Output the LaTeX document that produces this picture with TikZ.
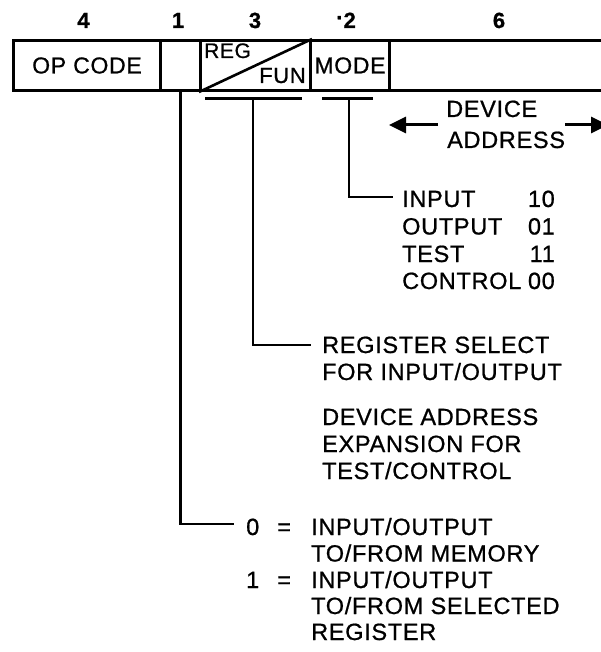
\documentclass[tikz,border=0pt]{standalone}
\usepackage{fontspec}
\setmainfont{Liberation Sans}[FakeBold=0.8,LetterSpace=3]
\usetikzlibrary{arrows.meta}
\newcommand\fsz[1]{\fontsize{#1}{#1}\selectfont}
\begin{document}
\begin{tikzpicture}[x=1pt,y=-1pt,
  field/.style={draw, line width=3pt, minimum height=50pt, inner sep=0pt,
    anchor=north west, font=\fsz{23}},
  toplbl/.style={anchor=base, inner sep=0pt, font=\fsz{22}\bfseries},
  txt/.style={anchor=base west, inner sep=0pt, font=\fsz{23.5}},
  num/.style={anchor=base east, inner sep=0pt, font=\fsz{23.5}},
  conn/.style={line width=2.6pt, line cap=rect},
  barline/.style={line width=3pt},
  bigarrow/.style={line width=3pt, -{Triangle[length=17pt,width=16pt]}}
]
\useasboundingbox (0,0) rectangle (601,652);
\clip (0,0) rectangle (601,652);

% field widths
\node[toplbl] (w4) at (83.5,28) {4};
\node[toplbl] (w1) at (178,28) {1};
\node[toplbl] (w3) at (255,28) {3};
\node[toplbl, anchor=base east] (w2) at (356,28) {\raisebox{3pt}{·}2};
\node[toplbl] (w6) at (499,28) {6};

% instruction word
\node[field, minimum width=147pt] (op) at (12,39) {OP CODE};
\node[field, minimum width=40pt] (f1) at (159,39) {};
\node[field, minimum width=110pt] (rf) at (199,39) {};
\node[field, minimum width=79pt] (mode) at (309,39) {MODE};
\node[field, minimum width=240pt] (f6) at (388,39) {};
\draw[line width=2.6pt] (rf.south west) -- (rf.north east);
\node[anchor=base west, inner sep=0pt, font=\fsz{21}] (reg) at (204,58) {REG};
\node[anchor=base west, inner sep=0pt, font=\fsz{22}] (fun) at (259,83) {FUN};

% bars under fields
\coordinate (b1l) at (205,99);
\coordinate (b1r) at (302,99);
\coordinate (b1m) at (253,99);
\coordinate (b2l) at (322,99);
\coordinate (b2r) at (373,99);
\coordinate (b2m) at (349,99);
\draw[barline] (b1l) -- (b1r);
\draw[barline] (b2l) -- (b2r);

% device address
\node[txt] (dev1) at (446,117) {DEVICE};
\node[txt] (dev2) at (447,148) {ADDRESS};
\coordinate (la) at (438,125);
\coordinate (lt) at (389,125);
\coordinate (ra) at (565,125);
\coordinate (rt) at (608,125);
\draw[bigarrow] (la) -- (lt);
\draw[bigarrow] (ra) -- (rt);

% mode list
\node[txt] (in) at (402,207) {INPUT};
\node[num] (in2) at (555,207) {10};
\node[txt] (out) at (402,234.5) {OUTPUT};
\node[num] (out2) at (555,234.5) {01};
\node[txt] (tst) at (402,262) {TEST};
\node[num] (tst2) at (555,262) {11};
\node[txt] (ctl) at (402,289) {CONTROL};
\node[num] (ctl2) at (555,289) {00};
\coordinate (e2) at (392,197);
\draw[conn] (b2m) |- (e2);

% reg/fun description
\node[txt] (rs1) at (322,353) {REGISTER SELECT};
\node[txt] (rs2) at (322,380) {FOR INPUT/OUTPUT};
\node[txt] (da1) at (322,425) {DEVICE ADDRESS};
\node[txt] (da2) at (322,452) {EXPANSION FOR};
\node[txt] (da3) at (322,479) {TEST/CONTROL};
\coordinate (e1) at (310,345);
\draw[conn] (b1m) |- (e1);

% bit 1 description
\node[txt] (z0) at (246,535) {0};
\node[txt] (z0e) at (277,535) {=};
\node[txt] (z1) at (311,535) {INPUT/OUTPUT};
\node[txt] (z2) at (311,561.5) {TO/FROM MEMORY};
\node[txt] (o0) at (246,588) {1};
\node[txt] (o0e) at (277,588) {=};
\node[txt] (o1) at (311,588) {INPUT/OUTPUT};
\node[txt] (o2) at (311,614) {TO/FROM SELECTED};
\node[txt] (o3) at (311,640) {REGISTER};
\coordinate (e0) at (233,524);
\draw[conn] (f1.south) |- (e0);
\end{tikzpicture}
\end{document}
